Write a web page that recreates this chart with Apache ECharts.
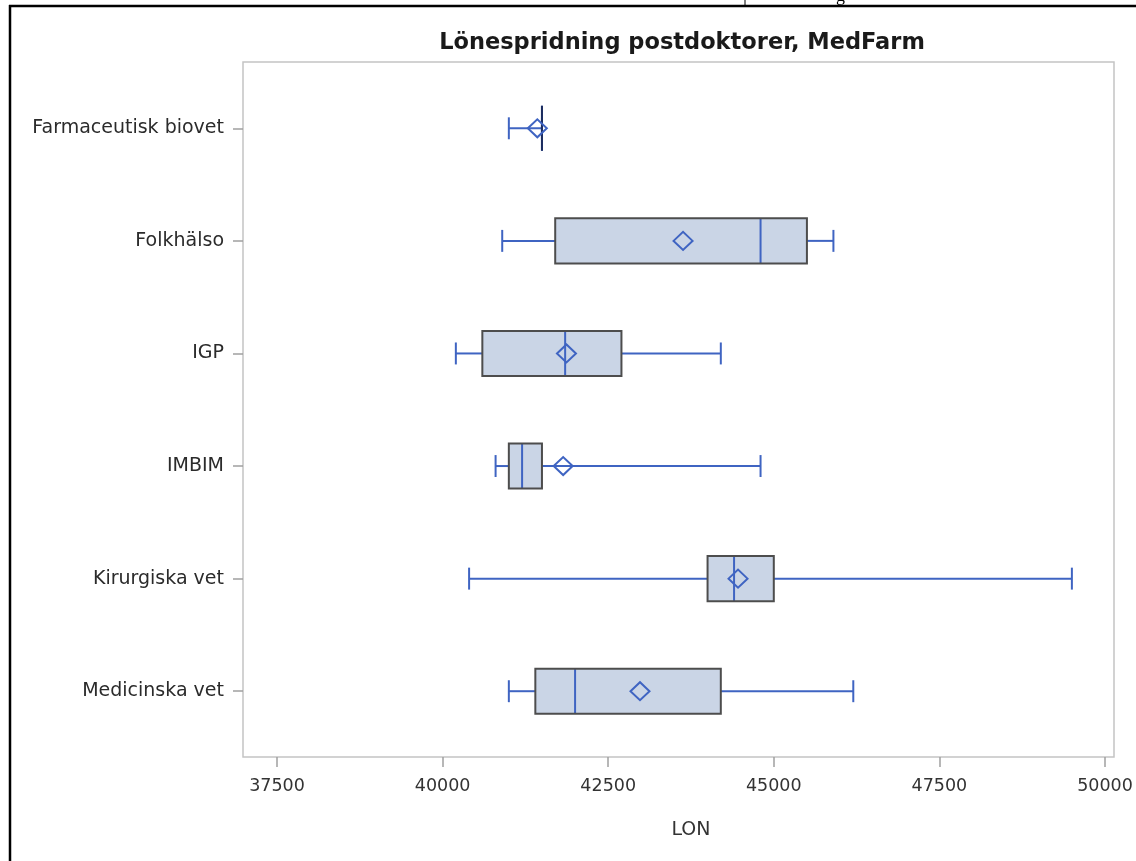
<!DOCTYPE html>
<html>
<head>
<meta charset="utf-8">
<script src="https://cdn.jsdelivr.net/npm/echarts@6/dist/echarts.min.js"></script>
<style>
  html, body { margin: 0; padding: 0; background: #ffffff; }
  #chart { width: 1136px; height: 861px; }
</style>
</head>
<body>
<div id="chart"></div>
<script>
// ---- data ----
const categories = ['Farmaceutisk biovet', 'Folkhälso', 'IGP', 'IMBIM', 'Kirurgiska vet', 'Medicinska vet'];
const minValues    = [41000, 40900, 40200, 40800, 40400, 41000];
const q1Values     = [41500, 41700, 40600, 41000, 44000, 41400];
const medianValues = [41500, 44800, 41850, 41200, 44400, 42000];
const q3Values     = [41500, 45500, 42700, 41500, 45000, 44200];
const maxValues    = [41500, 45900, 44200, 44800, 49500, 46200];
const meanValues   = [41430, 43630, 41870, 41820, 44460, 42980];
const axisMin = 37500, axisMax = 50000, axisStep = 2500;
const titleText = 'Lönespridning postdoktorer, MedFarm';
const axisTitle = 'LON';

const boxData = categories.map((c, i) => [i, minValues[i], q1Values[i], medianValues[i], q3Values[i], maxValues[i], meanValues[i]]);

const BLUE = '#3f64c2';
const BORDER = '#4d4d4d';
const FILL = '#cad5e6';

function renderItem(params, api) {
  const cat = api.value(0);
  const pMin = api.coord([api.value(1), cat]);
  const pQ1 = api.coord([api.value(2), cat]);
  const pMed = api.coord([api.value(3), cat]);
  const pQ3 = api.coord([api.value(4), cat]);
  const pMax = api.coord([api.value(5), cat]);
  const pMean = api.coord([api.value(6), cat]);
  const y = pMin[1];
  const band = api.size([0, 1])[1];
  const boxH = band * 0.4;
  const capH = band * 0.195;
  const dw = 9.5, dh = 9;
  const ls = { stroke: BLUE, lineWidth: 2, fill: null };
  const degenerate = pQ3[0] - pQ1[0] < 1;
  return {
    type: 'group',
    children: [
      { type: 'line', shape: { x1: pMin[0], y1: y, x2: pQ1[0], y2: y }, style: ls },
      { type: 'line', shape: { x1: pQ3[0], y1: y, x2: pMax[0], y2: y }, style: ls },
      { type: 'line', shape: { x1: pMin[0], y1: y - capH / 2, x2: pMin[0], y2: y + capH / 2 }, style: ls },
      { type: 'line', shape: { x1: pMax[0], y1: y - capH / 2, x2: pMax[0], y2: y + capH / 2 }, style: ls },
      { type: 'rect', shape: { x: pQ1[0], y: y - boxH / 2, width: pQ3[0] - pQ1[0], height: boxH }, style: { fill: FILL, stroke: null } },
      { type: 'line', shape: { x1: pMed[0], y1: y - boxH / 2, x2: pMed[0], y2: y + boxH / 2 }, style: ls },
      { type: 'rect', shape: { x: pQ1[0], y: y - boxH / 2, width: pQ3[0] - pQ1[0], height: boxH }, style: { fill: null, stroke: degenerate ? '#1c2c5e' : BORDER, lineWidth: 2 } },
      { type: 'polygon', shape: { points: [[pMean[0] - dw, y], [pMean[0], y - dh], [pMean[0] + dw, y], [pMean[0], y + dh]] }, style: ls }
    ]
  };
}

const chart = echarts.init(document.getElementById('chart'), null, { renderer: 'canvas' });
chart.setOption({
  backgroundColor: '#ffffff',
  animation: false,
  title: {
    text: titleText,
    left: 677,
    top: 27,
    textAlign: 'center',
    textStyle: { fontFamily: 'DejaVu Sans', fontWeight: 'bold', fontSize: 22.5, color: '#1a1a1a' }
  },
  grid: [
    { left: 277, right: 31, top: 72, bottom: 113.5, show: false },
    { left: 243, right: 22, top: 62, bottom: 104, show: true, borderColor: '#c4c4c4', borderWidth: 1.5, backgroundColor: 'transparent' }
  ],
  xAxis: [
    {
      type: 'value', gridIndex: 0, min: axisMin, max: axisMax, interval: axisStep,
      position: 'bottom', offset: 9.5,
      axisLine: { show: false },
      axisTick: { show: true, length: 10, lineStyle: { color: '#a0a0a0', width: 1.5 } },
      splitLine: { show: false },
      axisLabel: { fontFamily: 'DejaVu Sans', fontSize: 17.5, color: '#333333', margin: 20, formatter: v => String(v) },
      name: axisTitle, nameLocation: 'middle', nameGap: 64,
      nameTextStyle: { fontFamily: 'DejaVu Sans', fontSize: 19, color: '#333333' }
    },
    { type: 'value', gridIndex: 1, show: false, min: 0, max: 1 }
  ],
  yAxis: [
    {
      type: 'category', gridIndex: 0, data: categories, inverse: true, offset: 34,
      axisLine: { show: false },
      axisTick: { show: true, alignWithLabel: true, length: 10, lineStyle: { color: '#a0a0a0', width: 1.5 } },
      splitLine: { show: false },
      axisLabel: { fontFamily: 'DejaVu Sans', fontSize: 19, color: '#2b2b2b', margin: 19 }
    },
    { type: 'value', gridIndex: 1, show: false, min: 0, max: 1 }
  ],
  series: [
    {
      type: 'custom',
      xAxisIndex: 0, yAxisIndex: 0,
      renderItem: renderItem,
      encode: { x: [1, 2, 3, 4, 5, 6], y: 0 },
      data: boxData,
      z: 5
    }
  ],
  graphic: [
    { type: 'line', shape: { x1: 9, y1: 6, x2: 1136, y2: 6 }, style: { stroke: '#000000', lineWidth: 2.5 } },
    { type: 'line', shape: { x1: 10, y1: 5, x2: 10, y2: 861 }, style: { stroke: '#000000', lineWidth: 2.5 } },
    { type: 'line', shape: { x1: 745, y1: 0, x2: 745, y2: 6 }, style: { stroke: '#000000', lineWidth: 1 } },
    { type: 'text', x: 836, y: -13, style: { text: 'g', font: '18px "Liberation Serif"', fill: '#000000', textVerticalAlign: 'top' } }
  ]
});
</script>
</body>
</html>
